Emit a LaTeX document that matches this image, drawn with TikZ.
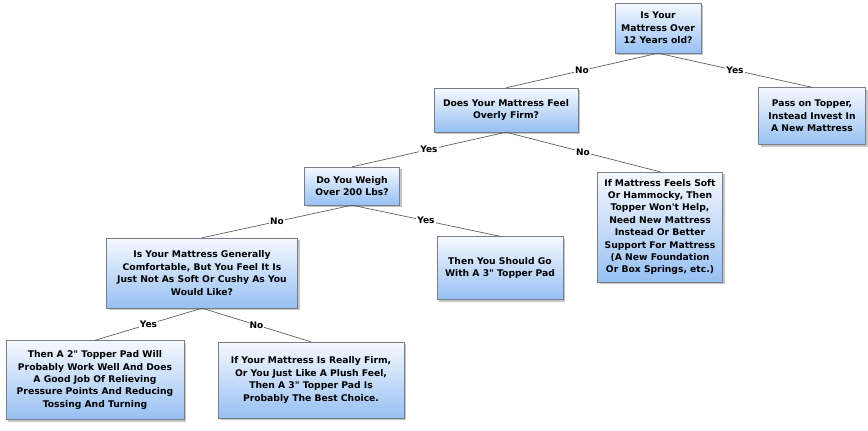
\documentclass[tikz,border=0pt]{standalone}
\usepackage{fontspec}
\setmainfont{DejaVu Sans}
\usetikzlibrary{shadows}

\definecolor{boxtop}{RGB}{246,249,255}
\definecolor{boxbottom}{RGB}{150,192,243}
\definecolor{boxline}{RGB}{120,125,135}
\definecolor{edgeline}{RGB}{95,95,95}

\tikzset{
  question/.style={draw=boxline, top color=boxtop, bottom color=boxbottom,
    align=center, inner sep=2pt, font=\bfseries\fontsize{9.2}{12.4}\selectfont,
    drop shadow={shadow xshift=2pt, shadow yshift=-2pt, opacity=0.45}},
  branch/.style={draw=edgeline, line width=0.7pt},
  answer/.style={midway, fill=white, inner sep=1pt, font=\bfseries\fontsize{9}{10}\selectfont}
}

\begin{document}
\begin{tikzpicture}[x=1pt, y=-1pt]
    \useasboundingbox (0,0) rectangle (868,431);

    % questions and outcomes
    \node[question, minimum width=86pt, minimum height=50pt] (old) at (658,28)
        {Is Your\\Mattress Over\\12 Years old?};
    \node[question, minimum width=107pt, minimum height=57pt] (pass) at (812,116)
        {Pass on Topper,\\Instead Invest In\\A New Mattress};
    \node[question, minimum width=144pt, minimum height=44pt] (firm) at (506,110)
        {Does Your Mattress Feel\\Overly Firm?};
    \node[question, minimum width=95pt, minimum height=38pt] (weigh) at (352,186)
        {Do You Weigh\\Over 200 Lbs?};
    \node[question, minimum width=125pt, minimum height=110pt] (soft) at (660,227)
        {If Mattress Feels Soft\\Or Hammocky, Then\\Topper Won\textquotesingle t Help,\\Need New Mattress\\Instead Or Better\\Support For Mattress\\(A New Foundation\\Or Box Springs, etc.)};
    \node[question, minimum width=126pt, minimum height=63pt] (three) at (500,268)
        {Then You Should Go\\With A 3\textquotedbl{} Topper Pad};
    \node[question, minimum width=191pt, minimum height=70pt] (comfy) at (202,273)
        {Is Your Mattress Generally\\Comfortable, But You Feel It Is\\Just Not As Soft Or Cushy As You\\Would Like?};
    \node[question, minimum width=178pt, minimum height=79pt] (two) at (95,380)
        {Then A 2\textquotedbl{} Topper Pad Will\\Probably Work Well And Does\\A Good Job Of Relieving\\Pressure Points And Reducing\\Tossing And Turning};
    \node[question, minimum width=186pt, minimum height=76pt] (best) at (311,380)
        {If Your Mattress Is Really Firm,\\Or You Just Like A Plush Feel,\\Then A 3\textquotedbl{} Topper Pad Is\\Probably The Best Choice.};

    % branches
    \draw[branch] (old.south) -- node[answer] {No} (firm.north);
    \draw[branch] (old.south) -- node[answer] {Yes} (pass.north);
    \draw[branch] (firm.south) -- node[answer] {Yes} (weigh.north);
    \draw[branch] (firm.south) -- node[answer] {No} (soft.north);
    \draw[branch] (weigh.south) -- node[answer] {No} (comfy.north);
    \draw[branch] (weigh.south) -- node[answer] {Yes} (three.north);
    \draw[branch] (comfy.south) -- node[answer] {Yes} (two.north);
    \draw[branch] (comfy.south) -- node[answer] {No} (best.north);
\end{tikzpicture}
\end{document}
